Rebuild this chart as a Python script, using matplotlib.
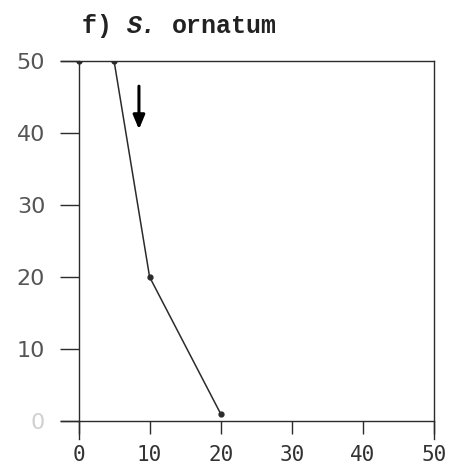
import matplotlib
matplotlib.use("Agg")
import matplotlib.pyplot as plt

# data
x_vals = [0, 5, 10, 20]
y_vals = [50, 50, 20, 1]
x_ticks = [0, 10, 20, 30, 40, 50]
y_ticks = [0, 10, 20, 30, 40, 50]
arrow_x = 8.5
arrow_from = 46.5
arrow_to = 40.5

ink = "#2b2b2b"

fig = plt.figure(figsize=(4.64, 4.69), dpi=100)
ax = fig.add_axes([0.131, 0.064, 0.804, 0.806])

ax.plot(x_vals, y_vals, color=ink, lw=1.1, marker="o", ms=3.5, mfc=ink, mec=ink)

ax.annotate("", xy=(arrow_x, arrow_to), xytext=(arrow_x, arrow_from),
            arrowprops=dict(arrowstyle="-|>,head_width=0.25,head_length=0.6",
                            color="black", lw=2.2,
                            mutation_scale=14, shrinkA=0, shrinkB=0))

ax.set_xlim(-2.5, 50)
ax.set_ylim(-2.5, 50)
ax.spines["left"].set_position(("data", 0))
ax.spines["bottom"].set_position(("data", 0))
for s in ax.spines.values():
    s.set_color(ink)
    s.set_linewidth(1.0)

ax.set_xticks(x_ticks)
ax.set_yticks(y_ticks)
ax.set_xticklabels([str(t) for t in x_ticks], family="DejaVu Sans Mono",
                   fontsize=15, color="#333333")
ax.set_yticklabels([str(t) for t in y_ticks], family="DejaVu Sans",
                   fontsize=16, color="#555555")
ax.get_yticklabels()[0].set_color("#d0d0d0")
ax.tick_params(axis="x", direction="out", length=9, width=1.0, color=ink, pad=8)
ax.tick_params(axis="y", direction="out", length=14, width=1.0, color=ink, pad=10)

fig.text(0.177, 0.945, "f) ", family="Liberation Mono", fontweight="bold",
         fontsize=18, color="#222222", va="center")
fig.text(0.274, 0.945, "S.", family="Liberation Mono", fontweight="bold",
         style="italic", fontsize=18, color="#222222", va="center")
fig.text(0.371, 0.945, "ornatum", family="Liberation Mono", fontweight="bold",
         fontsize=18, color="#222222", va="center")

fig.savefig("out.png", dpi=100, facecolor="white")
